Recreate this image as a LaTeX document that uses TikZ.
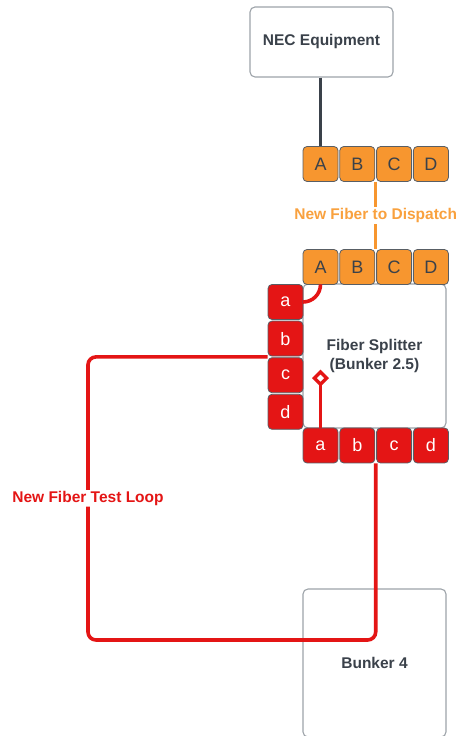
\documentclass[tikz,border=0pt]{standalone}
\usepackage{fontspec}
\setmainfont{Liberation Sans}
\usetikzlibrary{positioning,arrows.meta,calc}
\definecolor{lucidorange}{HTML}{F7962F}
\definecolor{lucidred}{HTML}{E41515}
\definecolor{labelorange}{HTML}{F9A13E}
\definecolor{slate}{HTML}{3A414A}
\definecolor{edgegrey}{HTML}{9DA3A9}

\begin{document}
\begin{tikzpicture}[
    x=1pt, y=1pt,
    node distance=1pt,
    box/.style={draw=edgegrey, line width=1.1pt, rounded corners=5pt, fill=white,
                text=slate, font=\bfseries\fontsize{15.5}{19}\selectfont,
                align=center, minimum width=143pt},
    port/.style={draw=slate!85, line width=0.8pt, rounded corners=4pt, inner sep=0pt,
                 minimum width=35pt, minimum height=35pt,
                 font=\fontsize{18}{20}\selectfont},
    oport/.style={port, fill=lucidorange, text=slate},
    rport/.style={port, fill=lucidred, text=white},
    fiber/.style={draw=lucidred, line width=3.6pt, rounded corners=8pt},
    tag/.style={fill=white, inner sep=1pt, font=\bfseries\fontsize{15.5}{19}\selectfont}
  ]
  \useasboundingbox (0,0) rectangle (460,736);

  % boxes
  \node[box, minimum height=70pt] (nec) at (321.5,694) {NEC Equipment};
  \node[box, minimum height=144pt] (splitter) at (374.5,380) {Fiber Splitter\\(Bunker 2.5)};
  \node[box, minimum height=148pt] (bunker) at (374.5,73) {Bunker 4};

  % ports towards dispatch
  \node[oport] (topA) at (320.5,572) {A};
  \node[oport, right=of topA] (topB) {B};
  \node[oport, right=of topB] (topC) {C};
  \node[oport, right=of topC] (topD) {D};

  % splitter input ports
  \node[oport] (inA) at (320.5,469) {A};
  \node[oport, right=of inA] (inB) {B};
  \node[oport, right=of inB] (inC) {C};
  \node[oport, right=of inC] (inD) {D};

  % splitter side ports
  \node[rport] (sidea) at (285.5,434) {a};
  \node[rport, below=0.8pt of sidea] (sideb) {b};
  \node[rport, below=0.8pt of sideb] (sidec) {c};
  \node[rport, below=0.8pt of sidec] (sided) {d};

  % splitter output ports
  \node[rport] (outa) at (320.5,290.5) {a};
  \node[rport, right=of outa] (outb) {b};
  \node[rport, right=of outb] (outc) {c};
  \node[rport, right=of outc] (outd) {d};

  % fibers
  \draw[slate, line width=3pt] (topA.north |- nec.south) -- (topA.north);

  \coordinate (dispup) at ($(topB.south east)!0.5!(topC.south west)$);
  \coordinate (dispdown) at ($(inB.north east)!0.5!(inC.north west)$);
  \draw[lucidorange, line width=3pt] (dispup) --
    node[tag, text=labelorange] {New Fiber to Dispatch} (dispdown);

  \draw[fiber, rounded corners=17.5pt] (inA.south) |- (sidea.east);

  \coordinate (tap) at ($(outa.north)+(0,58)$);
  \draw[lucidred, line width=3.4pt, -{Diamond[open, length=17pt, width=17pt]}] (outa.north) -- (tap);

  \coordinate (loopin) at ($(sideb.south west)!0.5!(sidec.north west)$);
  \coordinate (loopout) at ($(outb.south east)!0.5!(outc.south west)$);
  \coordinate (loopcorner) at (88,96);
  \draw[fiber] (loopin) -| node[tag, text=lucidred, pos=0.75] {New Fiber Test Loop}
    (loopcorner) -| (loopout);
\end{tikzpicture}
\end{document}
